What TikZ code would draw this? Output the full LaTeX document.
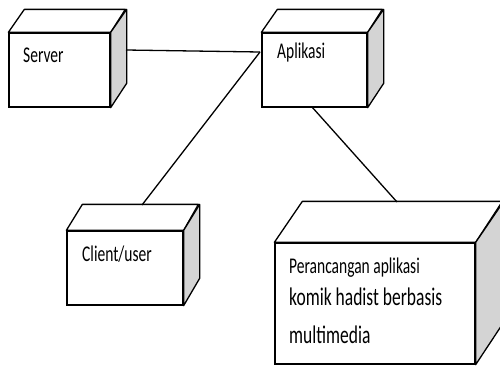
\documentclass[tikz,border=0pt]{standalone}
\usepackage{fontspec}
\usepackage{graphicx}
\setmainfont{Carlito}
\tikzset{
  x=1pt, y=-1pt,
  edge/.style={draw=black, line width=1.3pt},
  front/.style={draw=black, fill=white, line width=1.3pt, rectangle, inner sep=0pt},
  topface/.style={draw=black, fill=white, line width=1.3pt, line join=round},
  sideface/.style={draw=black, fill=black!17, line width=1.3pt, line join=round},
  lbl/.style={inner sep=0pt, anchor=base west, font=\fontsize{15.5}{18}\selectfont},
  lblbig/.style={inner sep=0pt, anchor=base west, font=\fontsize{17.5}{20}\selectfont},
}
\newcommand{\tall}[1]{\scalebox{1}[1.45]{#1}}
\begin{document}
\begin{tikzpicture}
\useasboundingbox (0,0) rectangle (500,370);
% Server
\node[front, minimum width=101pt, minimum height=74pt] (srv) at (59.5,70) {};
\draw[topface] (srv.north west) -- ++(16,-23) -- ++(101,0) -- (srv.north east) -- cycle;
\draw[sideface] (srv.north east) -- ++(16,-23) -- ++(0,74) -- (srv.south east) -- cycle;
\node[lbl] (srvt) at (23,62) {\tall{Server}};
% Aplikasi
\node[front, minimum width=105pt, minimum height=74pt] (apl) at (314.5,70) {};
\draw[topface] (apl.north west) -- ++(16,-23) -- ++(105,0) -- (apl.north east) -- cycle;
\draw[sideface] (apl.north east) -- ++(16,-23) -- ++(0,74) -- (apl.south east) -- cycle;
\node[lbl] (aplt) at (277,58) {\tall{Aplikasi}};
% Client
\node[front, minimum width=116pt, minimum height=74pt] (cli) at (125,268) {};
\draw[topface] (cli.north west) -- ++(16,-26) -- ++(116,0) -- (cli.north east) -- cycle;
\draw[sideface] (cli.north east) -- ++(16,-26) -- ++(0,74) -- (cli.south east) -- cycle;
\node[lbl] (clit) at (82,261) {\tall{Client/user}};
% Big box
\node[front, minimum width=200pt, minimum height=121pt] (big) at (375,303.5) {};
\draw[topface] (big.north west) -- ++(28,-41) -- ++(200,0) -- (big.north east) -- cycle;
\draw[sideface] (big.north east) -- ++(28,-41) -- ++(0,121) -- (big.south east) -- cycle;
\node[lbl] (bigt1) at (289,273) {\tall{Perancangan aplikasi}};
\node[lblbig] (bigt2) at (289,305) {\tall{komik hadist berbasis}};
\node[lblbig] (bigt3) at (289,343) {\tall{multimedia}};
% connectors
\coordinate (srvR) at (126,50);
\coordinate (aplL) at (260,52);
\coordinate (cliT) at (142,205);
\coordinate (aplB) at (312,107);
\coordinate (bigT) at (397,202);
\draw[edge] (srvR) -- (aplL);
\draw[edge] (aplL) -- (cliT);
\draw[edge] (aplB) -- (bigT);
\end{tikzpicture}
\end{document}
